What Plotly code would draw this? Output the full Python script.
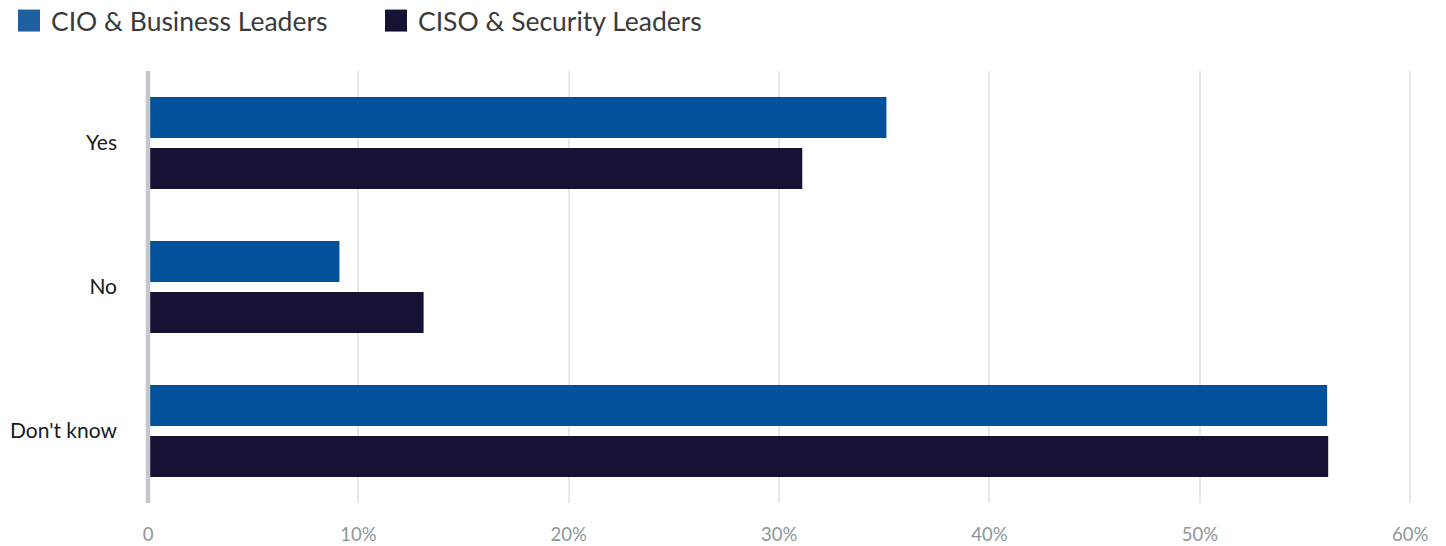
import plotly.graph_objects as go

categories = ["Yes", "No", "Don't know"]
series_names = ["CIO & Business Leaders", "CISO & Security Leaders"]
cio_values = [35.1, 9.1, 56.05]
ciso_values = [31.1, 13.1, 56.1]
tick_values = [0, 10, 20, 30, 40, 50, 60]
tick_labels = ["0", "10%", "20%", "30%", "40%", "50%", "60%"]

colors = ["#01529b", "#141334"]
legend_colors = ["#1f5f9f", "#141334"]
font_family = "Lato, 'Open Sans', sans-serif"

fig = go.Figure()
for name, vals, col in zip(series_names, [cio_values, ciso_values], colors):
    fig.add_trace(go.Bar(
        y=categories, x=vals, name=name, orientation="h",
        marker=dict(color=col, line=dict(width=0)),
        showlegend=False, hoverinfo="x+y",
    ))

# Plot area in pixels: x 148..1446, y 70.5..503
W, H = 1446, 546
L, R, T, B = 148, 0, 70.5, 43
pw, ph = W - L - R, H - T - B

def px_x(x):
    return (x - L) / pw

def px_y(y):
    return (H - B - y) / ph

# Custom legend: squares and labels across the top
legend_items = [(18, 49), (385, 416)]
for (sq_x, tx_x), name, col in zip(legend_items, series_names, legend_colors):
    fig.add_shape(type="rect", xref="paper", yref="paper",
                  x0=px_x(sq_x), x1=px_x(sq_x + 22), y0=px_y(31), y1=px_y(9),
                  fillcolor=col, line=dict(width=0), layer="above")
    fig.add_annotation(xref="paper", yref="paper", x=px_x(tx_x), y=px_y(20),
                       xanchor="left", yanchor="middle", text=name, showarrow=False,
                       font=dict(family=font_family, size=26.5, color="#3a3a3a"))

fig.update_layout(
    width=W, height=H,
    margin=dict(l=L, r=R, t=T, b=B, pad=0),
    paper_bgcolor="white", plot_bgcolor="white",
    barmode="group", bargap=0.29, bargroupgap=0.196,
    font=dict(family=font_family),
    xaxis=dict(
        range=[0, 61.7], tickvals=tick_values, ticktext=tick_labels,
        showgrid=True, gridcolor="#e8e8e8", gridwidth=1.5,
        zeroline=False, showline=False, ticks="", ticklabelstandoff=18,
        tickfont=dict(family=font_family, size=18.5, color="#8a9898"),
        fixedrange=True,
    ),
    yaxis=dict(
        autorange="reversed", showgrid=False, zeroline=False,
        showline=False, ticks="", ticklabelstandoff=30,
        tickfont=dict(family=font_family, size=21, color="#1a1a1a"),
        fixedrange=True,
    ),
)

# Vertical baseline along the left edge of the plot
fig.add_shape(type="line", xref="paper", yref="paper", x0=0, x1=0, y0=0, y1=1,
              line=dict(color="#c3c7cb", width=4.5), layer="above")

fig.write_html("out.html")
